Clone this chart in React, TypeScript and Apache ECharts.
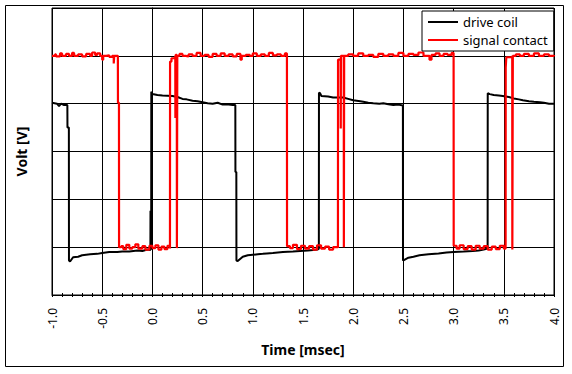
import React, { useEffect, useRef } from "react";
import * as echarts from "echarts";

const xTicks = [-1.0, -0.5, 0.0, 0.5, 1.0, 1.5, 2.0, 2.5, 3.0, 3.5, 4.0];
const seriesNames = ["drive coil", "signal contact"];

const driveCoil: [number, number][] = [
  [-1.0, 4.02], [-0.95, 4.0], [-0.93, 3.95], [-0.91, 4.0], [-0.88, 3.97], [-0.847, 3.97],
  [-0.846, 3.5], [-0.832, 3.5], [-0.831, 0.72], [-0.82, 0.7], [-0.79, 0.79], [-0.74, 0.8],
  [-0.7, 0.83], [-0.62, 0.85], [-0.55, 0.86], [-0.5, 0.88], [-0.43, 0.9], [-0.35, 0.9],
  [-0.3, 0.91], [-0.23, 0.91], [-0.15, 0.93], [-0.1, 0.92], [-0.05, 0.95], [-0.02, 0.94],
  [-0.019, 1.76], [-0.017, 0.95], [-0.012, 0.98], [-0.011, 4.25], [0.0, 4.2], [0.05, 4.18],
  [0.1, 4.17], [0.2, 4.16], [0.25, 4.14], [0.3, 4.1], [0.34, 4.09], [0.4, 4.06], [0.45, 4.05],
  [0.5, 4.03], [0.55, 4.01], [0.6, 4.0], [0.65, 4.02], [0.7, 3.98], [0.74, 3.99], [0.8, 3.97],
  [0.826, 3.97], [0.827, 2.57], [0.836, 2.57], [0.837, 0.72], [0.85, 0.71], [0.9, 0.8],
  [0.95, 0.83], [1.0, 0.84], [1.05, 0.85], [1.1, 0.86], [1.14, 0.87], [1.2, 0.88], [1.3, 0.9],
  [1.4, 0.91], [1.47, 0.92], [1.55, 0.93], [1.6, 0.94], [1.646, 0.95], [1.658, 0.97],
  [1.659, 4.23], [1.67, 4.22], [1.683, 4.16], [1.75, 4.15], [1.8, 4.13], [1.9, 4.13],
  [1.95, 4.1], [2.0, 4.07], [2.07, 4.05], [2.1, 4.04], [2.15, 4.02], [2.2, 4.01], [2.26, 4.0],
  [2.3, 4.01], [2.35, 3.99], [2.4, 3.97], [2.45, 3.98], [2.495, 3.96], [2.496, 0.72],
  [2.5, 0.71], [2.55, 0.78], [2.6, 0.8], [2.66, 0.83], [2.75, 0.85], [2.85, 0.87], [2.93, 0.89],
  [3.0, 0.9], [3.1, 0.91], [3.19, 0.92], [3.25, 0.93], [3.3, 0.95], [3.339, 0.97], [3.34, 4.22],
  [3.36, 4.2], [3.4, 4.18], [3.45, 4.17], [3.49, 4.16], [3.55, 4.14], [3.6, 4.11], [3.65, 4.09],
  [3.69, 4.07], [3.75, 4.05], [3.8, 4.04], [3.86, 4.03], [3.9, 4.02], [3.95, 4.0], [4.0, 4.0],
];

const signalContact: [number, number][] = [
  [-1.0, 5.0], [-0.97, 5.03], [-0.96, 4.99], [-0.92, 5.05], [-0.9, 5.0], [-0.86, 5.04],
  [-0.83, 5.0], [-0.8, 5.06], [-0.78, 5.0], [-0.74, 5.03], [-0.7, 4.99], [-0.66, 5.04],
  [-0.62, 5.0], [-0.6, 5.07], [-0.57, 5.02], [-0.55, 5.05], [-0.52, 5.0], [-0.5, 4.92],
  [-0.49, 5.0], [-0.46, 5.01], [-0.43, 4.98], [-0.4, 5.0], [-0.385, 4.84], [-0.38, 5.0],
  [-0.344, 5.0], [-0.343, 4.02], [-0.333, 4.02], [-0.332, 1.0], [-0.31, 1.02], [-0.29, 0.96],
  [-0.26, 1.05], [-0.23, 0.97], [-0.2, 1.0], [-0.17, 1.06], [-0.14, 0.97], [-0.1, 1.02],
  [-0.07, 0.95], [-0.03, 1.03], [0.0, 0.98], [0.03, 1.04], [0.06, 0.95], [0.09, 1.01],
  [0.12, 0.96], [0.15, 1.03], [0.175, 0.97], [0.176, 4.88], [0.19, 4.95], [0.228, 5.0],
  [0.229, 3.7], [0.232, 5.02], [0.243, 5.0], [0.244, 0.98], [0.248, 5.0], [0.27, 5.04],
  [0.3, 5.0], [0.33, 4.99], [0.36, 5.03], [0.4, 5.0], [0.44, 5.06], [0.48, 5.0], [0.52, 5.02],
  [0.56, 4.98], [0.6, 5.04], [0.64, 5.0], [0.68, 5.05], [0.72, 5.0], [0.76, 5.03], [0.8, 4.99],
  [0.84, 5.04], [0.877, 4.92], [0.89, 5.0], [0.93, 5.02], [0.97, 5.0], [1.0, 5.05], [1.04, 5.0],
  [1.08, 5.03], [1.12, 5.0], [1.16, 5.06], [1.2, 5.01], [1.24, 5.03], [1.28, 5.0], [1.32, 5.05],
  [1.34, 5.0], [1.341, 1.02], [1.37, 0.98], [1.4, 1.05], [1.44, 0.96], [1.48, 1.03],
  [1.52, 0.97], [1.56, 1.02], [1.6, 0.95], [1.64, 1.04], [1.68, 0.97], [1.72, 1.01],
  [1.76, 0.95], [1.8, 1.0], [1.848, 0.98], [1.849, 4.92], [1.875, 4.95], [1.876, 3.48],
  [1.878, 5.0], [1.906, 5.0], [1.907, 1.0], [1.91, 5.0], [1.95, 5.03], [2.0, 5.0], [2.05, 5.05],
  [2.1, 5.0], [2.15, 5.02], [2.2, 4.98], [2.25, 5.04], [2.3, 5.0], [2.35, 5.03], [2.4, 5.0],
  [2.45, 5.06], [2.5, 5.0], [2.55, 5.04], [2.6, 5.02], [2.65, 5.07], [2.7, 5.0], [2.76, 4.92],
  [2.78, 5.02], [2.82, 5.05], [2.86, 5.0], [2.9, 5.04], [2.94, 5.02], [2.98, 5.06], [3.0, 5.0],
  [3.001, 1.03], [3.03, 0.97], [3.06, 1.04], [3.1, 0.96], [3.14, 1.02], [3.18, 0.95],
  [3.22, 1.03], [3.26, 0.97], [3.3, 1.02], [3.34, 0.95], [3.38, 1.01], [3.42, 0.96],
  [3.46, 1.03], [3.5, 0.97], [3.518, 0.97], [3.519, 4.75], [3.525, 4.97], [3.584, 5.0],
  [3.585, 0.95], [3.59, 5.0], [3.62, 5.03], [3.66, 5.0], [3.7, 5.04], [3.75, 5.0], [3.8, 5.05],
  [3.85, 5.0], [3.9, 5.03], [3.95, 5.0], [4.0, 5.02],
];

const FONT = "Noto Sans";

export default function App() {
  const ref = useRef<HTMLDivElement>(null);
  useEffect(() => {
    if (!ref.current) return;
    const chart = echarts.init(ref.current, undefined, { renderer: "svg" });
    const xMin = xTicks[0];
    const xMax = xTicks[xTicks.length - 1];
    chart.setOption({
      animation: false,
      backgroundColor: "#fff",
      textStyle: { fontFamily: FONT },
      graphic: [
        {
          type: "rect",
          shape: { x: 5.5, y: 5.5, width: 558, height: 361 },
          style: { fill: "none", stroke: "#000", lineWidth: 1 },
          silent: true,
        },
      ],
      grid: {
        left: 52,
        right: 18,
        top: 8,
        bottom: 79,
        show: true,
        borderColor: "#000",
        borderWidth: 1,
      },
      legend: {
        orient: "vertical",
        left: 422,
        top: 11,
        backgroundColor: "#fff",
        borderColor: "#000",
        borderWidth: 1,
        padding: [3, 6, 3, 6],
        itemGap: 2,
        itemWidth: 30,
        itemHeight: 2,
        icon: "rect",
        data: seriesNames,
        textStyle: { fontFamily: FONT, fontSize: 13, color: "#000", lineHeight: 16 },
      },
      xAxis: [
        {
          type: "value",
          min: xMin,
          max: xMax,
          interval: 0.5,
          name: "Time [msec]",
          nameLocation: "middle",
          nameGap: 47,
          nameTextStyle: { fontFamily: FONT, fontSize: 14, fontWeight: "bold", color: "#000" },
          axisLine: { show: true, lineStyle: { color: "#000", width: 1 } },
          axisTick: { show: true, inside: false, length: 2, lineStyle: { color: "#000" } },
          minorTick: { show: true, splitNumber: 5, length: 2, lineStyle: { color: "#000" } },
          splitLine: { show: true, lineStyle: { color: "#000", width: 1 } },
          axisLabel: {
            rotate: 90,
            margin: 13,
            fontFamily: FONT,
            fontSize: 12,
            color: "#000",
            formatter: (v: number) => v.toFixed(1),
          },
        },
        {
          type: "value",
          position: "bottom",
          min: xMin,
          max: xMax,
          interval: 0.5,
          axisLine: { show: false },
          axisTick: { show: true, inside: true, length: 2, lineStyle: { color: "#000" } },
          minorTick: { show: true, splitNumber: 5, length: 2, lineStyle: { color: "#000" } },
          splitLine: { show: false },
          axisLabel: { show: false },
        },
      ],
      yAxis: {
        type: "value",
        min: 0,
        max: 6,
        interval: 1,
        name: "Volt [V]",
        nameLocation: "middle",
        nameGap: 24,
        nameTextStyle: { fontFamily: FONT, fontSize: 14, fontWeight: "bold", color: "#000" },
        axisLine: { show: true, lineStyle: { color: "#000" } },
        axisTick: { show: false },
        axisLabel: { show: false },
        splitLine: { show: true, lineStyle: { color: "#000", width: 1 } },
      },
      series: [
        {
          name: seriesNames[0],
          type: "line",
          xAxisIndex: 0,
          data: driveCoil,
          showSymbol: false,
          symbol: "none",
          color: "#000",
          lineStyle: { color: "#000", width: 2 },
        },
        {
          name: seriesNames[1],
          type: "line",
          xAxisIndex: 0,
          data: signalContact,
          step: "end",
          showSymbol: false,
          symbol: "none",
          color: "#ff0000",
          lineStyle: { color: "#ff0000", width: 2.2 },
        },
      ],
    });
    return () => chart.dispose();
  }, []);
  return (
    <div
      ref={ref}
      style={{ position: "fixed", left: 0, top: 0, width: 572, height: 374 }}
    />
  );
}
